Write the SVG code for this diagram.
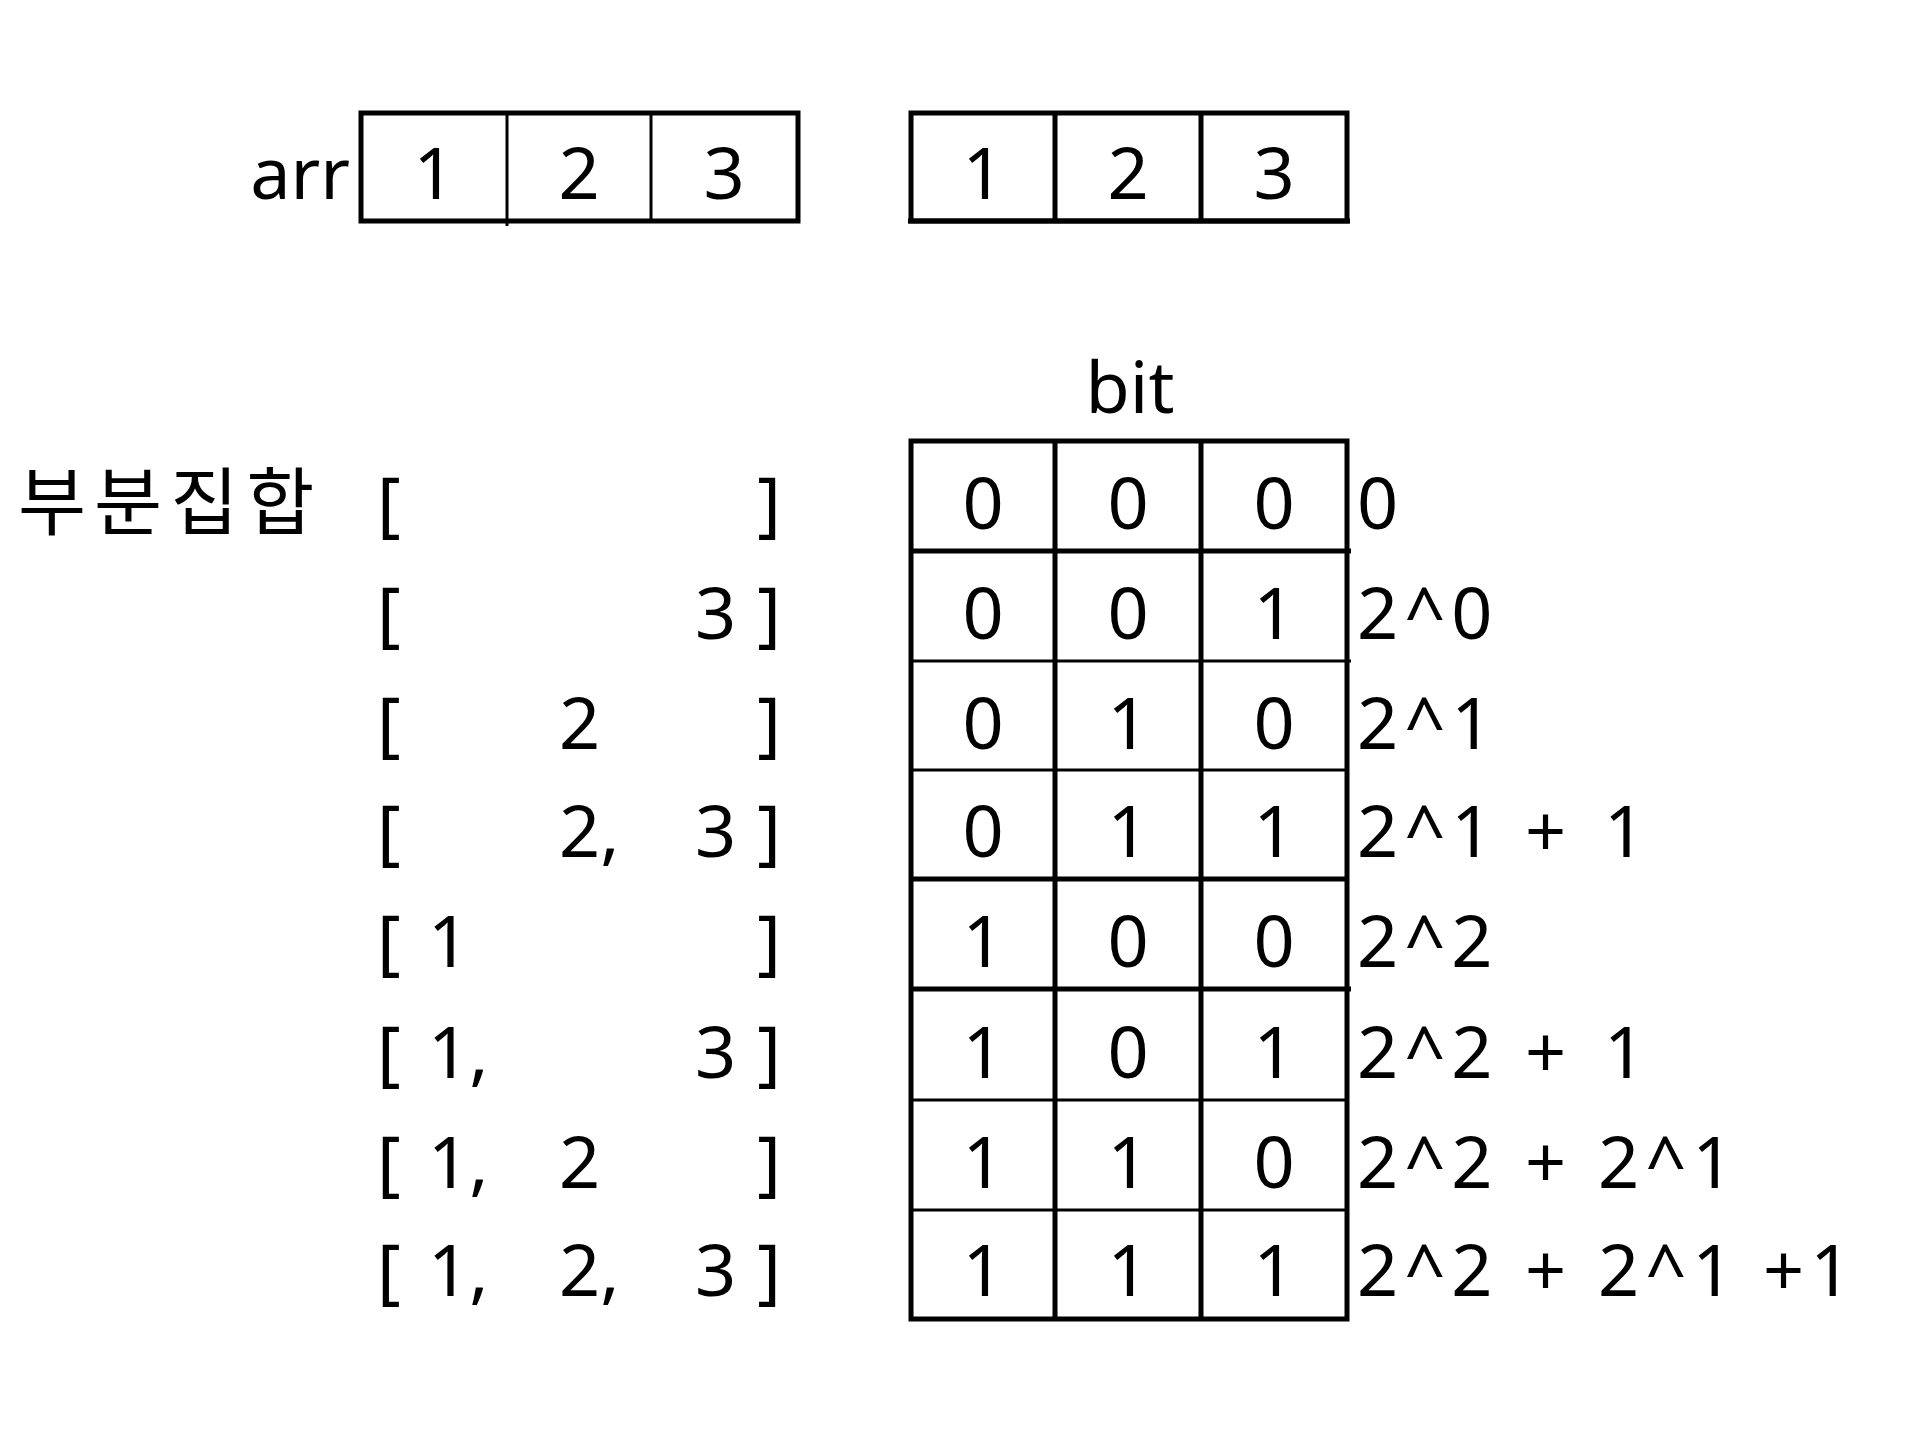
<svg xmlns="http://www.w3.org/2000/svg" width="1920" height="1434" viewBox="0 0 1920 1434">
<style>
.t{font-family:"Noto Sans","Noto Sans CJK KR",sans-serif;font-size:72px;fill:#000}
.m{text-anchor:middle}
.e{text-anchor:end}
.p{letter-spacing:6px}
.thick{stroke:#000;stroke-width:5;fill:none}
.thin{stroke:#000;stroke-width:3;fill:none}
</style>
<rect width="1920" height="1434" fill="#fff"/>
<g id="arr">
<text class="t e" x="350" y="199">arr</text>
<rect class="thick" x="361" y="113" width="437" height="108"/>
<line class="thin" x1="507" y1="113" x2="507" y2="226"/>
<line class="thin" x1="651" y1="113" x2="651" y2="221"/>
<text class="t m" x="434" y="199">1</text>
<text class="t m" x="579" y="199">2</text>
<text class="t m" x="724" y="199">3</text>
</g>
<g id="arr2">
<rect class="thick" x="911" y="113" width="436" height="108"/>
<line class="thick" x1="908" y1="221" x2="1350" y2="221"/>
<line class="thick" x1="1055" y1="113" x2="1055" y2="221"/>
<line class="thick" x1="1201" y1="113" x2="1201" y2="221"/>
<text class="t m" x="983" y="199">1</text>
<text class="t m" x="1128" y="199">2</text>
<text class="t m" x="1274" y="199">3</text>
</g>
<g id="bit">
<text class="t m" x="1130" y="413">bit</text>
<rect class="thick" x="911" y="441" width="436" height="878"/>
<line class="thick" x1="1055" y1="441" x2="1055" y2="1319"/>
<line class="thick" x1="1201" y1="441" x2="1201" y2="1319"/>
<line class="thick" x1="911" y1="551" x2="1351" y2="551"/>
<line class="thin" x1="911" y1="661" x2="1351" y2="661"/>
<line class="thin" x1="911" y1="770" x2="1347" y2="770"/>
<line class="thick" x1="911" y1="879" x2="1347" y2="879"/>
<line class="thick" x1="911" y1="989" x2="1351" y2="989"/>
<line class="thin" x1="911" y1="1100" x2="1347" y2="1100"/>
<line class="thin" x1="911" y1="1210" x2="1347" y2="1210"/>
<g class="t m">
<text x="983" y="529">0</text><text x="1128" y="529">0</text><text x="1274" y="529">0</text>
<text x="983" y="639">0</text><text x="1128" y="639">0</text><text x="1274" y="639">1</text>
<text x="983" y="749">0</text><text x="1128" y="749">1</text><text x="1274" y="749">0</text>
<text x="983" y="857">0</text><text x="1128" y="857">1</text><text x="1274" y="857">1</text>
<text x="983" y="967">1</text><text x="1128" y="967">0</text><text x="1274" y="967">0</text>
<text x="983" y="1078">1</text><text x="1128" y="1078">0</text><text x="1274" y="1078">1</text>
<text x="983" y="1188">1</text><text x="1128" y="1188">1</text><text x="1274" y="1188">0</text>
<text x="983" y="1296">1</text><text x="1128" y="1296">1</text><text x="1274" y="1296">1</text>
</g>
</g>
<g id="labels" class="t p">
<text x="1357" y="529">0</text>
<text x="1357" y="639">2^0</text>
<text x="1357" y="749">2^1</text>
<text x="1357" y="857">2^1<tspan x="1525">+</tspan><tspan x="1604">1</tspan></text>
<text x="1357" y="967">2^2</text>
<text x="1357" y="1078">2^2<tspan x="1525">+</tspan><tspan x="1604">1</tspan></text>
<text x="1357" y="1188">2^2<tspan x="1525">+</tspan><tspan x="1598">2^1</tspan></text>
<text x="1357" y="1296">2^2<tspan x="1525">+</tspan><tspan x="1598">2^1</tspan><tspan x="1763">+1</tspan></text>
</g>
<g id="subsets" class="t">
<text x="18" y="529" style="font-size:74px;letter-spacing:8px">부분집합</text>
<text x="377" y="529">[</text><text class="e" x="781" y="529">]</text>
<text x="377" y="639">[</text><text x="695" y="639">3</text><text class="e" x="781" y="639">]</text>
<text x="377" y="749">[</text><text x="559" y="749">2</text><text class="e" x="781" y="749">]</text>
<text x="377" y="857">[</text><text x="559" y="857">2,</text><text x="695" y="857">3</text><text class="e" x="781" y="857">]</text>
<text x="377" y="967">[</text><text x="428" y="967">1</text><text class="e" x="781" y="967">]</text>
<text x="377" y="1078">[</text><text x="428" y="1078">1,</text><text x="695" y="1078">3</text><text class="e" x="781" y="1078">]</text>
<text x="377" y="1188">[</text><text x="428" y="1188">1,</text><text x="559" y="1188">2</text><text class="e" x="781" y="1188">]</text>
<text x="377" y="1296">[</text><text x="428" y="1296">1,</text><text x="559" y="1296">2,</text><text x="695" y="1296">3</text><text class="e" x="781" y="1296">]</text>
</g>
</svg>
